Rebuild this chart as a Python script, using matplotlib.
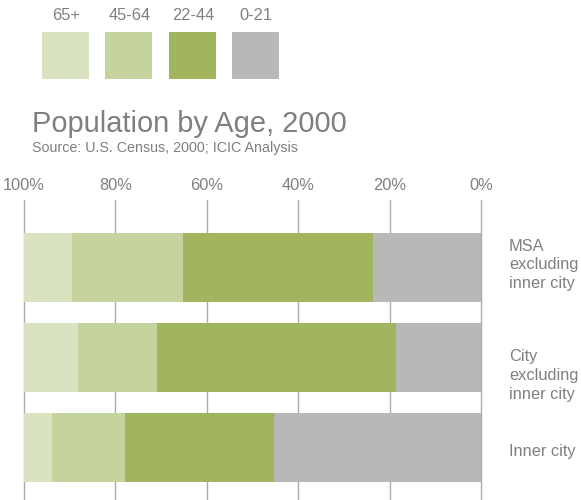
import matplotlib
matplotlib.use("Agg")
import matplotlib.pyplot as plt
from matplotlib.patches import Rectangle

plt.rcParams['font.family'] = ['Liberation Sans', 'DejaVu Sans']

# data (percent of population)
regions = ['MSA\nexcluding\ninner city', 'City\nexcluding\ninner city', 'Inner city']
age_groups = ['0-21', '22-44', '45-64', '65+']
age_0_21 = [23.7, 18.7, 45.4]
age_22_44 = [41.6, 52.1, 32.6]
age_45_64 = [24.1, 17.3, 15.8]
age_65_up = [10.6, 11.9, 6.2]
colors = ['#B8B8B8', '#A0B55E', '#C5D39F', '#D9E2C1']
tick_vals = [100, 80, 60, 40, 20, 0]

TEXT = '#808080'
GRID = '#ABABAB'

fig = plt.figure(figsize=(5.81, 5.0), dpi=100)

# === main chart ===
ax = fig.add_axes([24 / 581, 0, 457 / 581, 300 / 500])
series = [age_0_21, age_22_44, age_45_64, age_65_up]
left = [0, 0, 0]
ypos = list(range(len(regions)))
for vals, c in zip(series, colors):
    ax.barh(ypos, vals, left=left, height=0.767, color=c, zorder=3)
    left = [l + v for l, v in zip(left, vals)]

ax.set_xlim(100, 0)
ax.set_ylim(2.583, -0.75)
ax.set_xticks(tick_vals)
ax.set_xticklabels([f'{t}%' for t in tick_vals])
ax.xaxis.tick_top()
ax.tick_params(axis='x', length=0, pad=5, labelsize=11.8, labelcolor=TEXT)
ax.set_yticks([])
ax.grid(True, axis='x', color=GRID, linewidth=1.0)
for gl in ax.get_xgridlines():
    gl.set_clip_on(False)
for s in ax.spines.values():
    s.set_visible(False)

# region labels on the right
label_dy = [-0.03, 0.2, 0.04]
for i, name in enumerate(regions):
    ax.text(-6.1, i + label_dy[i], name, ha='left', va='center',
            fontsize=11.8, color=TEXT, linespacing=1.3, clip_on=False)

# === title ===
fig.text(32 / 581, 1 - 131.7 / 500, 'Population by Age, 2000',
         fontsize=20.9, color='#7F7F7F', va='baseline', ha='left')
fig.text(32 / 581, 1 - 151.7 / 500, 'Source: U.S. Census, 2000; ICIC Analysis',
         fontsize=10.3, color='#7F7F7F', va='baseline', ha='left')

# === legend (squares with labels above) ===
lax = fig.add_axes([0, 410 / 500, 1, 90 / 500])
lax.set_xlim(0, 581)
lax.set_ylim(90, 0)
lax.axis('off')
leg_order = [3, 2, 1, 0]
for k, idx in enumerate(leg_order):
    x0 = 42 + 63.4 * k
    lax.add_patch(Rectangle((x0, 32), 47, 47, color=colors[idx], lw=0))
    lax.text(x0 + 24, 19.5, age_groups[idx], ha='center', va='baseline',
             fontsize=11.8, color=TEXT)

fig.savefig('out.png', dpi=100)
